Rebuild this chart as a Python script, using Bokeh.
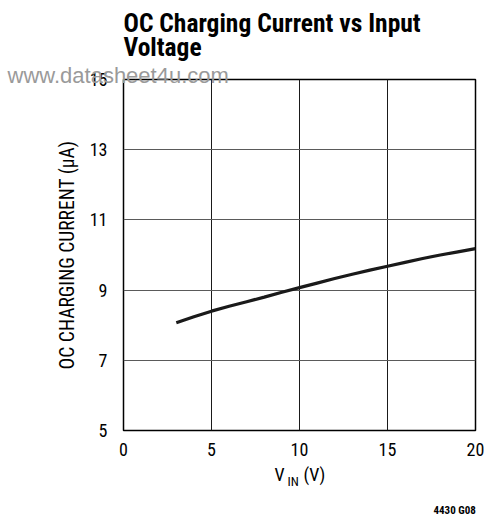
from bokeh.plotting import figure
from bokeh.models import Range1d, FixedTicker, Label
from bokeh.embed import file_html
from bokeh.resources import INLINE

# ---- data ----
vin = [3, 4, 5, 6, 7, 8, 9, 10, 11, 12, 13, 14, 15, 16, 17, 18, 19, 20]
current = [8.07, 8.24, 8.40, 8.54, 8.67, 8.80, 8.94, 9.07, 9.20, 9.33,
           9.45, 9.57, 9.68, 9.79, 9.90, 10.00, 10.09, 10.18]
x_ticks = [0, 5, 10, 15, 20]
y_ticks = [5, 7, 9, 11, 13, 15]
x_limits = [0, 20]
y_limits = [5, 15]
title_lines = ["OC Charging Current vs Input", "Voltage"]
x_label_parts = ["V", "IN", "(V)"]
y_label = "OC CHARGING CURRENT (\u00b5A)"
watermark = "www.datasheet4u.com"
fig_code = "4430 G08"

NARROW = "'Roboto Condensed', Roboto"
W, H = 485, 517
FL, FT, FW, FH = 123, 79, 352, 351

p = figure(width=W, height=H, title=None,
           x_range=Range1d(*x_limits), y_range=Range1d(*y_limits),
           output_backend="svg", toolbar_location=None,
           min_border_left=FL, min_border_top=FT,
           min_border_right=W - FL - FW, min_border_bottom=H - FT - FH)
p.background_fill_color = "white"
p.border_fill_color = "white"
p.outline_line_color = "black"
p.outline_line_width = 1.5

# axes
for ax in (p.xaxis[0], p.yaxis[0]):
    ax.axis_line_color = None
    ax.major_tick_line_color = None
    ax.minor_tick_line_color = None
    ax.major_label_text_font = NARROW
    ax.major_label_text_font_size = "18px"
    ax.major_label_text_color = "black"
p.xaxis.ticker = FixedTicker(ticks=x_ticks)
p.yaxis.ticker = FixedTicker(ticks=y_ticks)
p.xaxis.major_label_standoff = 6
p.yaxis.major_label_standoff = 10
p.yaxis.axis_label = y_label
p.yaxis.axis_label_text_font = NARROW
p.yaxis.axis_label_text_font_style = "normal"
p.yaxis.axis_label_text_font_size = "19.5px"
p.yaxis.axis_label_text_color = "black"
p.yaxis.axis_label_standoff = 8

# grid
p.xgrid.ticker = FixedTicker(ticks=x_ticks)
p.ygrid.ticker = FixedTicker(ticks=y_ticks)
p.xgrid.grid_line_color = "#1a1a1a"
p.xgrid.grid_line_width = 1
p.ygrid.grid_line_color = "#5a5a5a"
p.ygrid.grid_line_width = 1.2

# curve
p.line(vin, current, line_color="#1a1a1a", line_width=3.2)


def at(sx, sy):
    """pixel position -> data coordinates (for text annotations)"""
    x0, x1 = x_limits
    y0, y1 = y_limits
    return (x0 + (sx - FL) / FW * (x1 - x0),
            y0 + (FT + FH - sy) / FH * (y1 - y0))


def label(text, sx, sy, size, panel, font=NARROW, style="normal",
          color="black"):
    x, y = at(sx, sy)
    p.add_layout(Label(x=x, y=y, text=text, text_font=font,
                       text_font_size=size, text_font_style=style,
                       text_color=color, text_align="left",
                       text_baseline="alphabetic"), panel)


# title (above)
label(title_lines[0], 123, 22, "25.5px", "above", style="bold")
label(title_lines[1], 123, 46, "25.5px", "above", style="bold")
# watermark
label(watermark, 7, 75, "22px", "below", font="Liberation Sans", color="#9a9a9a")
# x axis label with subscript
label(x_label_parts[0], 274, 474, "18px", "left")
label(x_label_parts[1], 287, 481, "13px", "left")
label(x_label_parts[2], 303, 474, "18px", "left")
# figure code
label(fig_code, 433, 510, "11px", "below", style="bold")

open("out.html", "w").write(file_html(p, INLINE))
